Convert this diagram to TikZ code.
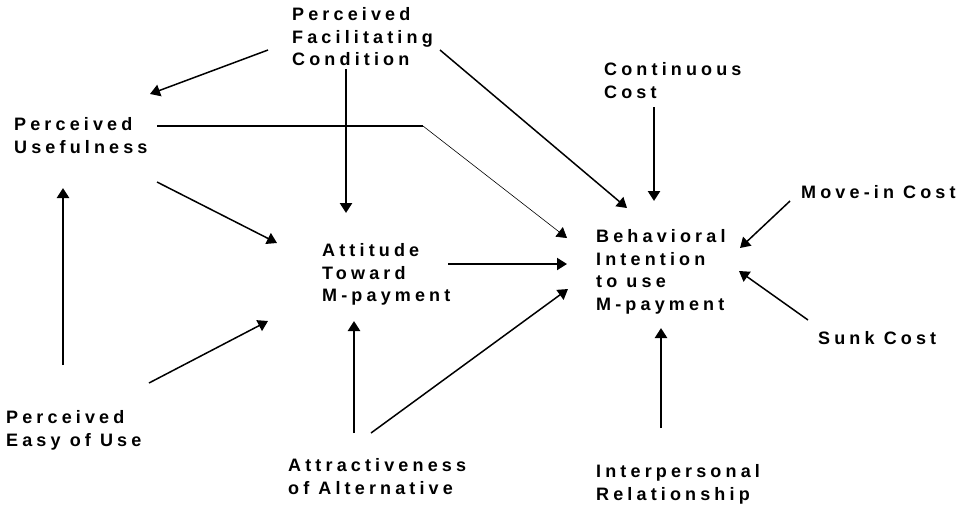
\documentclass[tikz,border=0pt]{standalone}
\usepackage{fontspec}
\usetikzlibrary{arrows.meta}
\newfontfamily\lblfont{Liberation Sans Bold}[LetterSpace=23]

\tikzset{
  lbl/.style={anchor=north west, inner sep=0pt, align=left,
    font={\lblfont\fontsize{18}{22.8}\selectfont}},
  arr/.style={line width=1.5pt, -{Triangle[length=10pt,width=12pt]}},
  varr/.style={arr, line width=2.6pt},
  harr/.style={arr, line width=2pt},
}

\begin{document}
\begin{tikzpicture}[x=1pt, y=-1pt]
  \useasboundingbox (0,0) rectangle (957,504);

  % constructs
  \node[lbl] (pfc)  at (292,7)   {Perceived\\Facilitating\\Condition};
  \node[lbl] (pu)   at (14,117)  {Perceived\\Usefulness};
  \node[lbl] (cc)   at (604,62)  {Continuous\\Cost};
  \node[lbl] (mic)  at (801,185) {Move-in Cost};
  \node[lbl] (att)  at (322,243) {Attitude\\Toward\\M-payment};
  \node[lbl] (bi)   at (596,229) {Behavioral\\Intention\\to use\\M-payment};
  \node[lbl] (sunk) at (818,331) {Sunk Cost};
  \node[lbl] (peu)  at (6,410)   {Perceived\\Easy of Use};
  \node[lbl] (attr) at (288,458) {Attractiveness\\of Alternative};
  \node[lbl] (ir)   at (596,464) {Interpersonal\\Relationship};

  % facilitating condition
  \path[arr]
    ([shift={(-24,43)}]pfc.north west) edge ([shift={(136,-23)}]pu.north west)
    ([shift={(148,43)}]pfc.north west) edge ([shift={(31,-21)}]bi.north west);
  \path[varr]
    ([shift={(54,62)}]pfc.north west) edge ([shift={(24,-30)}]att.north west);

  % usefulness -> intention, with the bend
  \coordinate (pu-bend) at ([shift={(409,9)}]pu.north west);
  \draw[line width=2pt] ([shift={(143,9)}]pu.north west) -- (pu-bend);
  \draw[arr, line width=0.6pt] (pu-bend) -- ([shift={(-29,9)}]bi.north west);

  \path[arr]
    ([shift={(143,65)}]pu.north west) edge ([shift={(-45,0)}]att.north west)
    ([shift={(143,-27)}]peu.north west) edge ([shift={(-54,78)}]att.north west)
    ([shift={(83,-25)}]attr.north west) edge ([shift={(-28,60)}]bi.north west)
    ([shift={(-11,16)}]mic.north west) edge ([shift={(144,19)}]bi.north west)
    ([shift={(-10,-11)}]sunk.north west) edge ([shift={(143,42)}]bi.north west);
  \path[harr]
    ([shift={(126,21)}]att.north west) edge ([shift={(-29,35)}]bi.north west);
  \path[varr]
    ([shift={(57,-45)}]peu.north west) edge ([shift={(49,71)}]pu.north west)
    ([shift={(66,-25)}]attr.north west) edge ([shift={(32,78)}]att.north west)
    ([shift={(50,45)}]cc.north west) edge ([shift={(58,-28)}]bi.north west)
    ([shift={(65,-36)}]ir.north west) edge ([shift={(65,99)}]bi.north west);
\end{tikzpicture}
\end{document}
